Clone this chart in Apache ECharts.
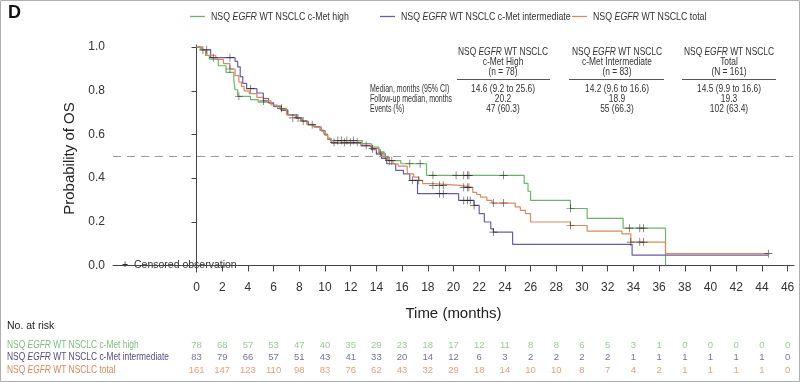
<!DOCTYPE html>
<html><head><meta charset="utf-8">
<script src="https://cdn.jsdelivr.net/npm/echarts@6/dist/echarts.min.js"></script>
<style>html,body{margin:0;padding:0;background:#fff}#c{width:800px;height:382px}</style>
</head><body><div id="c"></div>
<script>
// ---- data ----
const seriesNames = ['NSQ EGFR WT NSCLC c-Met high', 'NSQ EGFR WT NSCLC c-Met intermediate', 'NSQ EGFR WT NSCLC total'];
const kmHigh = [[0,1],[0.3,0.987],[0.7,0.962],[1.0,0.945],[1.7,0.915],[2.3,0.885],[2.9,0.85],[3.0,0.805],[3.2,0.775],[4.2,0.76],[4.8,0.748],[5.5,0.74],[6.0,0.728],[6.5,0.714],[7.1,0.69],[7.8,0.676],[8.1,0.662],[8.6,0.646],[9.1,0.636],[9.6,0.62],[9.9,0.602],[10.2,0.584],[10.4,0.572],[12.9,0.558],[13.6,0.542],[14.2,0.52],[14.6,0.5],[14.9,0.48],[15.9,0.466],[17.9,0.413],[25.5,0.376],[25.8,0.34],[26.0,0.298],[29.1,0.261],[30.4,0.216],[33.2,0.171],[36.5,0]];
const kmInt = [[0,1],[0.4,0.988],[1.1,0.952],[3.0,0.935],[3.2,0.91],[3.4,0.865],[3.6,0.834],[3.9,0.81],[4.7,0.79],[5.2,0.765],[5.6,0.745],[6.0,0.73],[6.6,0.71],[7.1,0.69],[7.8,0.674],[8.2,0.66],[8.7,0.644],[9.2,0.634],[9.7,0.618],[10.0,0.598],[10.2,0.578],[10.5,0.56],[12.8,0.548],[13.6,0.53],[14.0,0.51],[14.4,0.49],[14.8,0.466],[15.5,0.436],[16.1,0.42],[16.6,0.39],[17.2,0.329],[20.4,0.298],[21.6,0.275],[22.0,0.237],[22.4,0.199],[22.9,0.168],[23.1,0.153],[24.6,0.097],[33.9,0.047],[44.5,0.047]];
const kmTotal = [[0,1],[0.4,0.988],[0.8,0.963],[1.5,0.944],[2.1,0.925],[2.6,0.9],[3.0,0.87],[3.3,0.84],[3.5,0.82],[3.7,0.8],[4.1,0.787],[4.7,0.77],[5.2,0.754],[5.8,0.735],[6.3,0.72],[7.0,0.69],[7.7,0.676],[8.2,0.662],[8.6,0.645],[9.2,0.633],[9.7,0.615],[10.0,0.597],[10.2,0.58],[10.5,0.564],[12.9,0.55],[13.7,0.535],[14.2,0.515],[14.5,0.497],[14.9,0.48],[15.3,0.465],[15.7,0.455],[16.4,0.42],[16.9,0.405],[17.3,0.39],[17.6,0.375],[18.4,0.367],[20.5,0.358],[21.5,0.335],[21.8,0.325],[22.1,0.313],[22.6,0.298],[23.0,0.286],[24.8,0.268],[25.2,0.252],[25.6,0.237],[26.0,0.199],[29.1,0.183],[30.4,0.157],[33.1,0.145],[33.8,0.107],[36.5,0.054],[44.5,0.054]];
const censorHigh = [[0.5,0.987],[3.3,0.775],[7.5,0.676],[11.0,0.572],[11.3,0.572],[11.7,0.572],[12.2,0.572],[16.6,0.466],[17.4,0.466],[18.4,0.413],[20.2,0.413],[20.8,0.413],[21.1,0.413],[21.2,0.413],[23.9,0.413],[29.1,0.261],[33.7,0.171],[34.5,0.171],[34.8,0.171]];
const censorInt = [[0.8,0.988],[1.3,0.952],[2.6,0.952],[4.2,0.81],[16.8,0.39],[18.9,0.329],[19.2,0.329],[20.8,0.298],[21.1,0.298],[21.3,0.298],[21.6,0.275],[23.1,0.153]];
const censorTotal = [[2.6,0.9],[5.2,0.754],[6.6,0.72],[7.9,0.676],[8.3,0.662],[9.0,0.645],[10.7,0.564],[11.5,0.564],[12.0,0.564],[12.5,0.564],[13.2,0.55],[13.7,0.535],[14.3,0.515],[14.7,0.497],[15.0,0.48],[15.2,0.48],[17.3,0.39],[18.4,0.367],[18.9,0.367],[19.2,0.367],[20.8,0.358],[21.1,0.358],[21.2,0.358],[23.1,0.286],[23.9,0.286],[29.1,0.183],[33.8,0.107],[34.5,0.107],[34.8,0.107],[44.5,0.054]];
const xTicks = [0,2,4,6,8,10,12,14,16,18,20,22,24,26,28,30,32,34,36,38,40,42,44,46];
const yTicks = [0,0.2,0.4,0.6,0.8,1.0];
const riskTimes = xTicks;
const riskHigh = [78,68,57,53,47,40,35,29,23,18,17,12,11,8,8,6,5,3,1,0,0,0,0,0];
const riskInt = [83,79,66,57,51,43,41,33,20,14,12,6,3,2,2,2,2,1,1,1,1,1,1,0];
const riskTotal = [161,147,123,110,98,83,76,62,43,32,29,18,14,10,10,8,7,4,2,1,1,1,1,0];
const statHeaderLine2 = ['c-Met High', 'c-Met Intermediate', 'Total'];
const statHeaderLine3 = ['(n = 78)', '(n = 83)', '(N = 161)'];
const statMedian = ['14.6 (9.2 to 25.6)', '14.2 (9.6 to 16.6)', '14.5 (9.9 to 16.6)'];
const statFollow = ['20.2', '18.9', '19.3'];
const statEvents = ['47 (60.3)', '55 (66.3)', '102 (63.4)'];
const statRowLabels = ['Median, months (95% CI)', 'Follow-up median, months', 'Events (%)'];

// ---- style ----
const FONT = '"Liberation Sans",Arial,sans-serif';
const FS = 10.5;      // small-text size, drawn horizontally condensed
const SX = 0.8;       // condensing factor
const colors = ['#6cb46c', '#6a5ca6', '#d98a5e'];
const riskColors = ['#7dbd7d', '#574c7c', '#d8875c'];
const plus = 'path://M4.6,0h0.8v10h-0.8z M0,4.6h10v0.8h-10z';

const chart = echarts.init(document.getElementById('c'), null, {renderer: 'canvas'});

function ctext(x, y, text, align, color, italicSplit, fs, sx) {
  fs = fs || FS; sx = sx || SX;
  let t = text, rich;
  if (italicSplit) {
    const parts = text.split('EGFR');
    t = '{n|' + parts[0] + '}{i|EGFR}{n|' + parts[1] + '}';
    rich = {n: {fontFamily: FONT, fontSize: fs, fill: color}, i: {fontFamily: FONT, fontSize: fs, fontStyle: 'italic', fill: color}};
  }
  return {type: 'text', x: x, y: y, scaleX: sx, silent: true,
    style: {text: t, rich: rich, align: align || 'center', verticalAlign: 'middle',
            fontFamily: FONT, fontSize: fs, fill: color}};
}

const graphics = [
  {type: 'rect', shape: {x: 0.5, y: 0.5, width: 799, height: 381}, style: {fill: 'none', stroke: '#b0b0b0', lineWidth: 1}},
  {type: 'text', left: 8, top: 4, style: {text: 'D', font: 'bold 18px "Liberation Sans",Arial,sans-serif', fill: '#111'}},
  ctext(122, 265, '+  Censored observation', 'left', '#333', false, 10.5, 1),
  ctext(7, 326, 'No. at risk', 'left', '#222', false, 10.5, 1)
];
// legend (drawn)
const legendLefts = [190, 380, 572];
seriesNames.forEach((n, i) => {
  graphics.push({type: 'line', shape: {x1: legendLefts[i], y1: 16.5, x2: legendLefts[i] + 15, y2: 16.5}, style: {stroke: colors[i], lineWidth: 1.3}});
  graphics.push(ctext(legendLefts[i] + 21, 16.5, n, 'left', '#333', true, 11, 0.8));
});
// risk-table row labels
const riskRowY = [345, 357.5, 370];
seriesNames.forEach((n, i) => graphics.push(ctext(7, riskRowY[i], n, 'left', riskColors[i], true)));
// stats table
const colX = [503, 617, 729];
const lineSeg = [[457, 550], [569, 664], [682, 776]];
colX.forEach((cx, i) => {
  graphics.push(ctext(cx, 52, 'NSQ EGFR WT NSCLC', 'center', '#333', true));
  graphics.push(ctext(cx, 62, statHeaderLine2[i], 'center', '#333'));
  graphics.push(ctext(cx, 72, statHeaderLine3[i], 'center', '#333'));
  graphics.push({type: 'line', shape: {x1: lineSeg[i][0], y1: 79.5, x2: lineSeg[i][1], y2: 79.5}, style: {stroke: '#555', lineWidth: 1}});
  graphics.push(ctext(cx, 89, statMedian[i], 'center', '#333'));
  graphics.push(ctext(cx, 99, statFollow[i], 'center', '#333'));
  graphics.push(ctext(cx, 109, statEvents[i], 'center', '#333'));
});
statRowLabels.forEach((t, i) => graphics.push(ctext(370, 89 + i * 10, t, 'left', '#333', false, 10, 0.7)));

const kmSeries = [kmHigh, kmInt, kmTotal].map((d, i) => ({
  name: seriesNames[i], type: 'line', step: 'end', data: d, xAxisIndex: 0, yAxisIndex: 0,
  symbol: 'none', lineStyle: {color: colors[i], width: 1.2}, itemStyle: {color: colors[i]},
  silent: true, z: 3
}));
kmSeries[0].markLine = {
  silent: true, symbol: 'none', label: {show: false},
  lineStyle: {color: '#9a9a9a', type: [8, 6], width: 1.2},
  data: [{yAxis: 0.5}]
};
const censorSeries = [censorHigh, censorInt, censorTotal].map((d) => ({
  type: 'scatter', data: d, xAxisIndex: 0, yAxisIndex: 0, symbol: plus, symbolSize: 8,
  itemStyle: {color: '#222'}, silent: true, z: 4
}));
const riskSeries = [riskHigh, riskInt, riskTotal].map((arr, r) => ({
  type: 'scatter', xAxisIndex: 1, yAxisIndex: 1, symbolSize: 0, silent: true,
  data: arr.map((v, j) => [riskTimes[j], r, v]),
  label: {show: true, position: 'inside', formatter: (p) => String(p.value[2]),
          fontFamily: FONT, fontSize: 9.5, color: riskColors[r]}
}));

const option = {
  animation: false,
  backgroundColor: '#fff',
  grid: [
    {left: 113, right: 6, top: 45, bottom: 110},
    {left: 113, right: 6, top: 339, height: 37.5}
  ],
  xAxis: [
    {type: 'value', gridIndex: 0, min: -6.5, max: 46.5,
     name: 'Time (months)', nameLocation: 'middle', nameGap: 34,
     nameTextStyle: {fontFamily: FONT, fontSize: 15, color: '#222'},
     axisLine: {show: true, lineStyle: {color: '#444', width: 1}},
     axisTick: {show: true, length: 6, customValues: xTicks, lineStyle: {color: '#444'}},
     axisLabel: {customValues: xTicks, fontFamily: FONT, fontSize: 12, color: '#333', margin: 10},
     splitLine: {show: false}},
    {type: 'value', gridIndex: 1, min: -6.5, max: 46.5, show: false}
  ],
  yAxis: [
    {type: 'value', gridIndex: 0, min: -0.03, max: 1.01,
     name: 'Probability of OS', nameLocation: 'middle', nameGap: 34, nameRotate: 90,
     nameTextStyle: {fontFamily: FONT, fontSize: 15, color: '#222'},
     axisLine: {show: true, lineStyle: {color: '#444', width: 1}},
     axisTick: {show: true, length: 5, customValues: yTicks, lineStyle: {color: '#444'}},
     axisLabel: {customValues: yTicks, formatter: (v) => v.toFixed(1), fontFamily: FONT, fontSize: 12, color: '#333', margin: 8},
     splitLine: {show: false}},
    {type: 'category', gridIndex: 1, inverse: true, data: seriesNames, show: false}
  ],
  series: [...kmSeries, ...censorSeries, ...riskSeries],
  graphic: graphics
};
chart.setOption(option);
</script>
</body></html>
